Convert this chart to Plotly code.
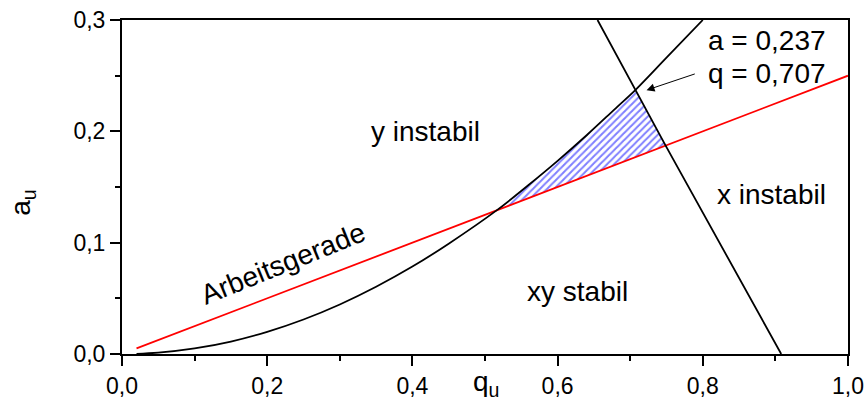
import plotly.graph_objects as go

# Stability boundary of the y motion (beta_y = 0)
curve_q = [0.02, 0.05, 0.10, 0.15, 0.20, 0.25, 0.30, 0.35, 0.40, 0.45, 0.516,
           0.56, 0.60, 0.64, 0.68, 0.707, 0.75, 0.80]
curve_a = [0.0002, 0.0012, 0.005, 0.0112, 0.0199, 0.0310, 0.0445, 0.0604, 0.0785, 0.0991, 0.129,
           0.1518, 0.1735, 0.1965, 0.2207, 0.237, 0.2661, 0.300]

# Stability boundary of the x motion (beta_x = 1)
line_q = [0.655, 0.707, 0.749, 0.908]
line_a = [0.300, 0.237, 0.187, 0.000]

# Working line a/q = const
work_q = [0.02, 0.516, 0.749, 1.0]
work_a = [0.005, 0.129, 0.187, 0.25]

# Apex of the stable region
apex_q = 0.707
apex_a = 0.237

x_ticks = [0.0, 0.2, 0.4, 0.6, 0.8, 1.0]
x_ticktext = ["0,0", "0,2", "0,4", "0,6", "0,8", "1,0"]
y_ticks = [0.0, 0.1, 0.2, 0.3]
y_ticktext = ["0,0", "0,1", "0,2", "0,3"]

FONT = "Arial, Liberation Sans, sans-serif"

# Outline of the hatched operating region: curve up to the apex,
# down the x boundary to the working line, back along the working line
q_lo, q_hi = work_q[1], line_q[2]
reg_q = [q for q in curve_q if q_lo <= q <= apex_q] + [q_hi, q_lo]
reg_a = [a for q, a in zip(curve_q, curve_a) if q_lo <= q <= apex_q] + [line_a[2], work_a[1]]

fig = go.Figure()

fig.add_trace(go.Scatter(
    x=reg_q, y=reg_a, mode="lines", fill="toself",
    line=dict(width=0, color="rgba(0,0,0,0)"),
    fillcolor="white",
    fillpattern=dict(shape="/", fgcolor="#0000ff", bgcolor="white", size=5, solidity=0.4),
    hoverinfo="skip", showlegend=False,
))

fig.add_trace(go.Scatter(
    x=work_q, y=work_a, mode="lines",
    line=dict(color="#ff0000", width=1.8), showlegend=False,
))
fig.add_trace(go.Scatter(
    x=curve_q, y=curve_a, mode="lines",
    line=dict(color="black", width=1.8, shape="spline", smoothing=1.0), showlegend=False,
))
fig.add_trace(go.Scatter(
    x=line_q, y=line_a, mode="lines",
    line=dict(color="black", width=1.8), showlegend=False,
))

def label(x, y, text, size=28, **kw):
    fig.add_annotation(x=x, y=y, text=text, showarrow=False,
                       font=dict(family=FONT, size=size, color="black"), **kw)

label(0.418, 0.200, "y instabil")
label(0.895, 0.143, "x instabil")
label(0.627, 0.056, "xy stabil")
label(0.222, 0.081, "Arbeitsgerade", textangle=-22)
label(0.804, 0.282, "a = 0,237", xanchor="left")
label(0.804, 0.252, "q = 0,707", xanchor="left")

fig.add_annotation(
    x=apex_q + 0.0155, y=apex_a, ax=0.791, ay=0.252,
    xref="x", yref="y", axref="x", ayref="y",
    text="", showarrow=True, arrowhead=2, arrowsize=1.6, arrowwidth=1, arrowcolor="black",
)

# Axis titles
fig.add_annotation(x=0.502, y=-0.147, xref="paper", yref="paper", text="q<sub>u</sub>",
                   showarrow=False, font=dict(family=FONT, size=28, color="black"))
fig.add_annotation(x=-0.165, y=0.452, xref="paper", yref="paper", text="a<sub>u</sub>",
                   textangle=-90, showarrow=False, font=dict(family=FONT, size=28, color="black"))

axis_common = dict(
    showgrid=False, zeroline=False, showline=True, linecolor="black", linewidth=2,
    mirror=True, ticks="outside", ticklen=10, tickwidth=2, tickcolor="black",
    tickfont=dict(family=FONT, size=23, color="black"), automargin=False,
)

fig.update_xaxes(
    range=[0, 1.0], tickvals=x_ticks, ticktext=x_ticktext,
    minor=dict(dtick=0.1, ticks="outside", ticklen=5, tickwidth=2, tickcolor="black"),
    **axis_common,
)
fig.update_yaxes(
    range=[0, 0.3], tickvals=y_ticks, ticktext=y_ticktext,
    minor=dict(dtick=0.05, ticks="outside", ticklen=5, tickwidth=2, tickcolor="black"),
    **axis_common,
)

fig.update_layout(
    width=866, height=408,
    margin=dict(l=122, r=18, t=20, b=54),
    plot_bgcolor="white", paper_bgcolor="white",
    showlegend=False,
)

fig.write_html("out.html")
